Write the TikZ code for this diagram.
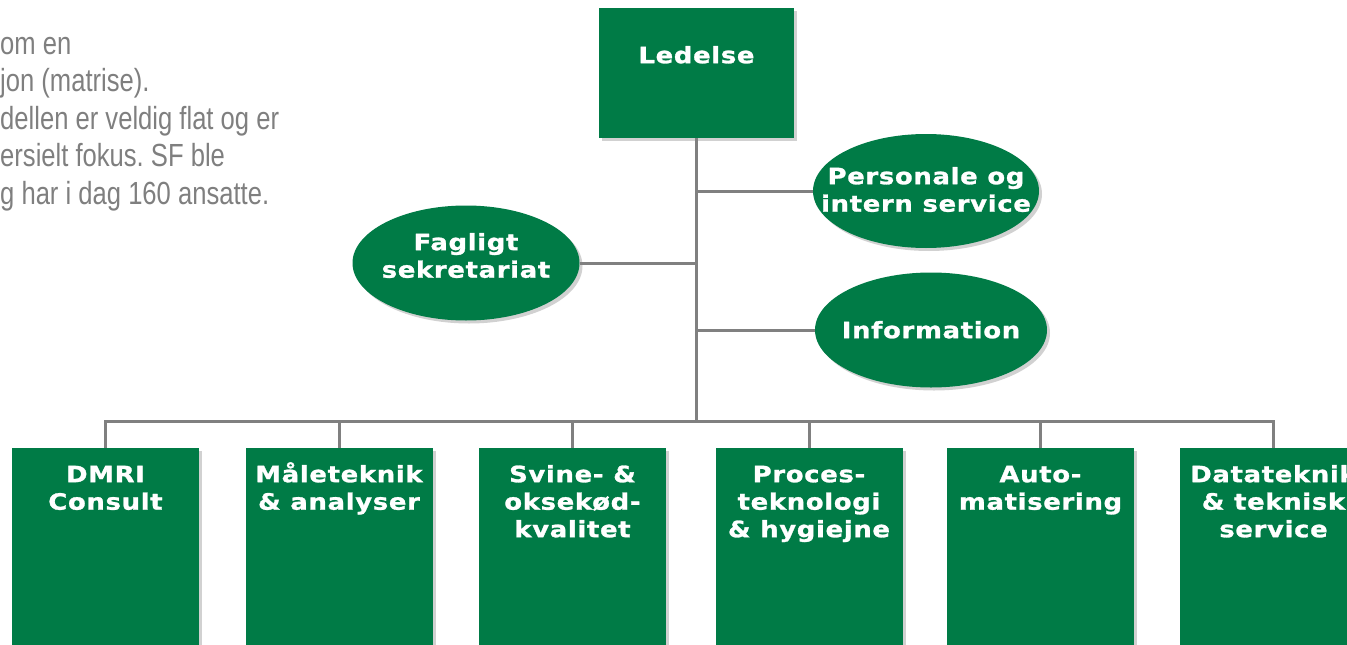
\documentclass[tikz,border=0pt]{standalone}
\usepackage{fontspec}
\setmainfont{Liberation Sans}
\newfontfamily\boxfont[FakeStretch=1.15,LetterSpace=3,FakeBold=1.2]{DejaVu Sans Bold}
\newfontfamily\introfont[FakeStretch=0.8]{Liberation Sans}
\usetikzlibrary{shapes.geometric,shadows}
\definecolor{dmgreen}{HTML}{007B46}
\definecolor{linegray}{HTML}{808080}
\definecolor{introgray}{HTML}{7F7F7F}
\newcommand\mystrut{\rule{0pt}{20pt}}
\newcommand\mystrutB{\rule{0pt}{23pt}}
\frenchspacing
\begin{document}
\begin{tikzpicture}[x=1pt,y=-1pt,
  shade/.style={drop shadow={shadow xshift=3pt,shadow yshift=-3pt,opacity=0.3,fill=black!60}},
  greenbox/.style={rectangle, fill=dmgreen, draw=none, inner sep=0pt, shade},
  greenoval/.style={ellipse, fill=dmgreen, draw=none, inner sep=0pt, shade},
  boxtext/.style={text=white, font={\boxfont\fontsize{22.5pt}{27.5pt}\selectfont}, align=center, inner sep=0pt, anchor=north},
  introtext/.style={text=introgray, font={\introfont\fontsize{32pt}{37.5pt}\selectfont}, align=left, inner sep=0pt, anchor=north west},
  conn/.style={draw=linegray, line width=3pt}
]
\useasboundingbox (0,0) rectangle (1347,645);
\clip (0,0) rectangle (1347,645);

% intro text (cropped at the left edge)
\node[introtext] (intro) at (0,31) {\mystrutB om en\\ jon (matrise).\\ dellen er veldig flat og er\\ ersielt fokus. SF ble\\ g har i dag 160 ansatte.};

% top
\node[greenbox, minimum width=195pt, minimum height=130pt] (led) at (696.5,73) {};
\node[boxtext] (ledT) at (696.5,43) {\mystrut Ledelse};

% staff ovals
\node[greenoval, minimum width=226pt, minimum height=114pt] (per) at (926,191) {};
\node[boxtext] (perT) at (926,164) {\mystrut Personale og\\ intern service};
\node[greenoval, minimum width=227pt, minimum height=115pt] (fag) at (466,263) {};
\node[boxtext] (fagT) at (466,230) {\mystrut Fagligt\\ sekretariat};
\node[greenoval, minimum width=232pt, minimum height=115pt] (inf) at (931,330) {};
\node[boxtext] (infT) at (931,318) {\mystrut Information};

% departments
\foreach \n/\x in {1/105.5,2/339,3/572.5,4/809,5/1040.5,6/1273.5}{
  \node[greenbox, minimum width=187pt, minimum height=220pt] (b\n) at (\x,558) {};
}
\node[boxtext] (b1T) at (b1.north |- 0,462) {\mystrut DMRI\\ Consult};
\node[boxtext] (b2T) at (b2.north |- 0,462) {\mystrut Måleteknik\\ \& analyser};
\node[boxtext] (b3T) at (b3.north |- 0,462) {\mystrut Svine- \&\\ oksekød-\\ kvalitet};
\node[boxtext] (b4T) at (b4.north |- 0,462) {\mystrut Proces-\\ teknologi\\ \& hygiejne};
\node[boxtext] (b5T) at (b5.north |- 0,462) {\mystrut Auto-\\ matisering};
\node[boxtext] (b6T) at (b6.north |- 0,462) {\mystrut Datateknik\\ \& teknisk\\ service};

% connectors
\coordinate (bus) at (696.5,421);
\draw[conn] (led.south) -- (bus);
\draw[conn] (per.west) -- (per.west -| bus);
\draw[conn] (fag.east) -- (fag.east -| bus);
\draw[conn] (inf.west) -- (inf.west -| bus);
\foreach \n in {1,...,6}{
  \draw[conn] (b\n.north) |- (bus);
}
\end{tikzpicture}
\end{document}
